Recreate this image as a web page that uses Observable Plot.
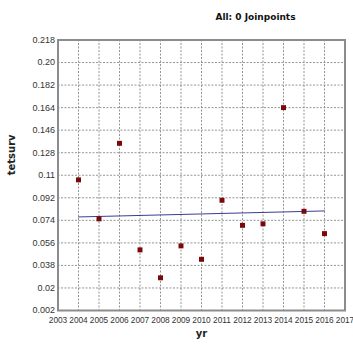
<!DOCTYPE html>
<html>
<head>
<meta charset="utf-8">
<script src="https://cdn.jsdelivr.net/npm/d3@7"></script>
<script src="https://cdn.jsdelivr.net/npm/@observablehq/plot@0.6"></script>
<style>
  html, body { margin: 0; padding: 0; background: #fff; }
  #chart svg { display: block; }
</style>
</head>
<body>
<div id="chart"></div>
<script>
// Observed values by year
const years = [2004, 2005, 2006, 2007, 2008, 2009, 2010, 2011, 2012, 2013, 2014, 2015, 2016];
const tetsurv = [0.1063, 0.0752, 0.1355, 0.0504, 0.0281, 0.0536, 0.0429, 0.0900, 0.0700, 0.0712, 0.1640, 0.0812, 0.0634];

// Fitted trend (0 joinpoints): endpoints
const fitYears = [2004, 2016];
const fitValues = [0.0767, 0.0815];

// Axis ticks
const xTicks = [2003, 2004, 2005, 2006, 2007, 2008, 2009, 2010, 2011, 2012, 2013, 2014, 2015, 2016, 2017];
const yTicks = [0.002, 0.02, 0.038, 0.056, 0.074, 0.092, 0.11, 0.128, 0.146, 0.164, 0.182, 0.20, 0.218];
const yTickLabels = ["0.002", "0.02", "0.038", "0.056", "0.074", "0.092", "0.11", "0.128", "0.146", "0.164", "0.182", "0.20", "0.218"];

const title = "All: 0 Joinpoints";
const xLabel = "yr";
const yLabel = "tetsurv";

const points = years.map((yr, i) => ({yr, v: tetsurv[i]}));
const fit = fitYears.map((yr, i) => ({yr, v: fitValues[i]}));

const sans = "Liberation Sans, Arial, sans-serif";
const boldFace = "DejaVu Sans, Verdana, sans-serif";

const chart = Plot.plot({
  width: 353,
  height: 348,
  marginLeft: 57.5,
  marginRight: 8.5,
  marginTop: 39.5,
  marginBottom: 38,
  style: {fontFamily: sans, background: "#fff"},
  x: {domain: [2003, 2017]},
  y: {domain: [0.002, 0.218]},
  marks: [
    Plot.gridX(xTicks, {stroke: "#8a8a8a", strokeOpacity: 0.9, strokeDasharray: "2,1.5"}),
    Plot.gridY(yTicks, {stroke: "#8a8a8a", strokeOpacity: 0.9, strokeDasharray: "2,1.5"}),
    Plot.axisX(xTicks, {tickSize: 0, tickPadding: 7, tickFormat: d => String(d), label: null,
      fill: "#333", fontSize: 8.3, fontFamily: sans}),
    Plot.axisY(yTicks, {tickSize: 0, tickPadding: 3, tickFormat: d => yTickLabels[yTicks.indexOf(d)], label: null,
      fill: "#333", fontSize: 9, fontFamily: sans}),
    Plot.frame({stroke: "#8c8c8c", strokeWidth: 2}),
    Plot.line(fit, {x: "yr", y: "v", stroke: "#3c3c96", strokeWidth: 1}),
    Plot.dot(points, {x: "yr", y: "v", symbol: "square", r: 2.8, fill: "#7a0a0a", stroke: "none"}),
    Plot.text([title], {frameAnchor: "top", dx: 54, dy: -26, fontWeight: "bold", fontSize: 9, fill: "#111",
      fontFamily: boldFace}),
    Plot.text([xLabel], {frameAnchor: "bottom", dy: 26, fontWeight: "bold", fontSize: 10, fill: "#222",
      fontFamily: boldFace}),
    Plot.text([yLabel], {frameAnchor: "left", dx: -46, rotate: -90, fontWeight: "bold", fontSize: 10, fill: "#222",
      fontFamily: boldFace})
  ]
});

document.getElementById("chart").appendChild(chart);
</script>
</body>
</html>
